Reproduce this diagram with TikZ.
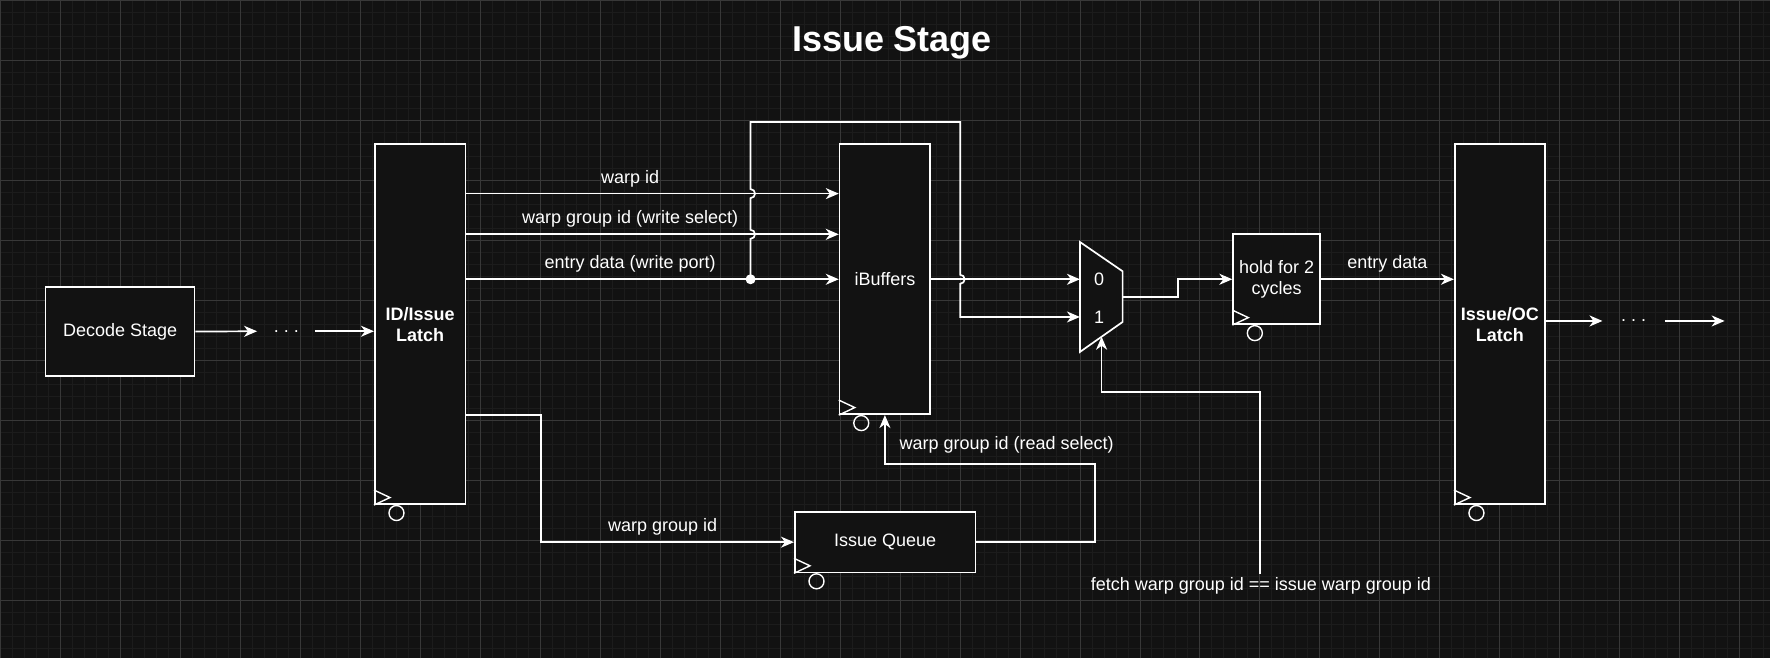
\documentclass[tikz,border=0pt]{standalone}
\usepackage{fontspec}
\setmainfont{Liberation Sans}
\usetikzlibrary{arrows.meta}
\definecolor{bg}{HTML}{121212}
\definecolor{gridfine}{HTML}{1C1C1C}
\definecolor{gridmain}{HTML}{383838}
% clock mark + reset circle at the lower left of a register
\newcommand{\regclk}[1]{%
  \draw[clkline] ([yshift=15pt]#1.south west) -- ([xshift=16pt,yshift=7.5pt]#1.south west) -- (#1.south west);
  \draw[clkline] ([xshift=22.5pt,yshift=-8pt]#1.south west) circle[radius=7.5pt];
}

\begin{document}
\begin{tikzpicture}[x=1pt,y=-1pt,
    every node/.style={text=white, font=\fontsize{18}{21}\selectfont},
    block/.style={draw=white, line width=1.7pt, fill=bg, align=center, inner sep=0pt},
    latch/.style={block, minimum width=90.6pt, minimum height=360pt, font=\fontsize{18}{21}\selectfont\bfseries},
    wire/.style={draw=white, line width=1.7pt},
    arrow/.style={wire, -{Stealth[length=13pt,width=11pt,inset=4pt]}},
    clkline/.style={draw=white, line width=1.4pt},
    lbl/.style={inner sep=0pt},
  ]
    % background + grid
    \fill[bg] (0,0) rectangle (1770,658);
    \draw[gridfine, line width=0.8pt, step=12pt] (0,658) grid (1770,0);
    \draw[gridmain, line width=0.8pt, step=60pt] (0,658) grid (1770,0);
    \useasboundingbox (0,0) rectangle (1770,658);

    \node[font=\fontsize{36}{40}\selectfont\bfseries] (title) at (892,42) {Issue Stage};

    % blocks
    \node[block, minimum width=149pt, minimum height=89pt] (decode) at (119.7,331.3) {Decode Stage};
    \node[latch] (idl) at (419.9,324) {ID/Issue\\Latch};
    \node[block, minimum width=90.6pt, minimum height=270pt] (ibuf) at (884.9,279) {iBuffers};
    \node[block, minimum width=86.7pt, minimum height=90pt] (hold) at (1276.7,279) {hold for 2\\cycles};
    \node[latch, minimum width=90.3pt] (oc) at (1500.2,324) {Issue/OC\\Latch};
    \node[block, minimum width=180.8pt, minimum height=60.6pt] (iq) at (885.2,542) {Issue Queue};
    \foreach \r in {idl,ibuf,hold,oc,iq} {\regclk{\r}}

    % mux
    \draw[wire, fill=bg] (1080,241.7) -- (1122.7,271) -- (1122.7,321.7) -- (1080,351.7) -- cycle;
    \coordinate (mux0) at (1080,279);
    \coordinate (mux1) at (1080,316.7);
    \coordinate (muxout) at (1122.7,296.7);
    \coordinate (muxsel) at (1101.7,336.5);
    \node (m0) at (1099.3,279) {0};
    \node (m1) at (1099.3,316.7) {1};

    % dots in front of / after the stage
    \node[lbl, minimum width=58pt] (dotsl) at (286,331) {.\ .\ .};
    \node[lbl, minimum width=62pt] (dotsr) at (1634,320.7) {.\ .\ .};
    \coordinate (tail) at (1725,320.7);
    \draw[arrow] (decode.east) -- (dotsl.west);
    \draw[arrow] (dotsl.east) -- (idl.west |- dotsl);
    \draw[arrow] (oc.east |- dotsr) -- (dotsr.west);
    \draw[arrow] (dotsr.east) -- (tail);

    % write side of the iBuffers
    \coordinate (rowa) at (0,193.3);
    \coordinate (rowb) at (0,234);
    \coordinate (jn) at (750.5,279);
    \draw[arrow] (idl.east |- rowa) -- node[lbl, above=6pt, pos=0.44] (lblwid) {warp id} (ibuf.west |- rowa);
    \draw[arrow] (idl.east |- rowb) -- node[lbl, above=6pt, pos=0.44] (lblwsel) {warp group id (write select)} (ibuf.west |- rowb);
    \draw[arrow] (idl.east |- ibuf.west) -- node[lbl, above=6pt, pos=0.44] (lblwport) {entry data (write port)} (ibuf.west);
    \fill[white] (jn) circle[radius=5pt];

    % bypass around the iBuffers, with jumps
    \draw[arrow] (jn) -- (750.5,238.5) arc[start angle=-90,end angle=90,radius=4.5pt]
        -- (750.5,197.8) arc[start angle=-90,end angle=90,radius=4.5pt]
        -- (750.5,121.7) -- (960.2,121.7)
        -- (960.2,274.5) arc[start angle=90,end angle=-90,radius=4.5pt]
        -- (960.2,316.7) -- (mux1);
    \draw[arrow] (ibuf.east) -- (mux0);

    % mux -> hold -> Issue/OC
    \draw[arrow] (muxout) -- (1178.3,296.7) |- (hold.west);
    \draw[arrow] (hold.east) -- node[lbl, above=6pt] (lblentry) {entry data} (oc.west |- hold.east);

    % issue queue loop
    \draw[arrow] (idl.east |- ibuf.south) -- ++(75,0) |- node[lbl, above=6pt, pos=0.74] (lblgid) {warp group id} (iq.west);
    \draw[arrow] (iq.east) -| (1095.3,464) -| (ibuf.south);
    \node[lbl, anchor=west] (lblrsel) at (899.5,445) {warp group id (read select)};

    % select of the mux
    \node (fetch) at (1261,585.8) {fetch warp group id == issue warp group id};
    \coordinate (selc) at (1260,391.7);
    \draw[arrow] (fetch.north -| selc) -- (selc) -| (muxsel);
\end{tikzpicture}
\end{document}
